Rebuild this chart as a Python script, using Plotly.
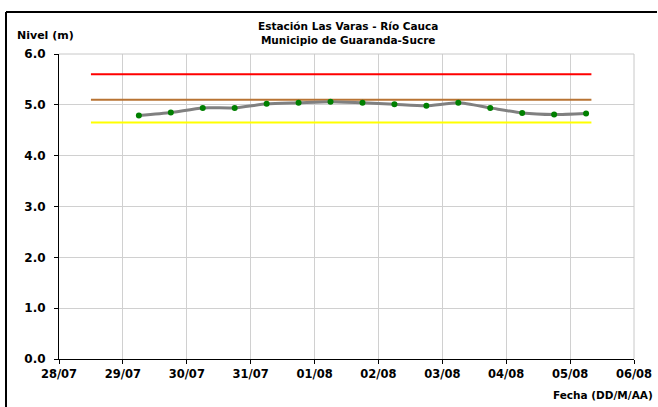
import plotly.graph_objects as go

# Data
fechas = ["2012-07-29 06:00", "2012-07-29 18:00", "2012-07-30 06:00", "2012-07-30 18:00",
          "2012-07-31 06:00", "2012-07-31 18:00", "2012-08-01 06:00", "2012-08-01 18:00",
          "2012-08-02 06:00", "2012-08-02 18:00", "2012-08-03 06:00", "2012-08-03 18:00",
          "2012-08-04 06:00", "2012-08-04 18:00", "2012-08-05 06:00"]
nivel = [4.79, 4.85, 4.94, 4.94, 5.02, 5.04, 5.06, 5.04, 5.01, 4.98, 5.04, 4.94, 4.84, 4.81, 4.83]

umbral_x = ["2012-07-28 12:00", "2012-08-05 08:00"]
umbral_rojo = 5.6
umbral_naranja = 5.1
umbral_amarillo = 4.65

titulo = "Estación Las Varas - Río Cauca<br>Municipio de Guaranda-Sucre"

fig = go.Figure()
for val, col in [(umbral_rojo, "#ff0000"), (umbral_naranja, "#b87333"), (umbral_amarillo, "#ffff00")]:
    fig.add_trace(go.Scatter(x=umbral_x, y=[val, val], mode="lines",
                             line=dict(color=col, width=2), showlegend=False, hoverinfo="skip"))

fig.add_trace(go.Scatter(x=fechas, y=nivel, mode="lines+markers",
                         line=dict(color="#808080", width=3, shape="spline", smoothing=0.6),
                         marker=dict(color="#008000", size=6),
                         showlegend=False))

font = "DejaVu Sans, sans-serif"
W, H = 658, 407
L, R, T, B = 59, 24, 54, 48
pw, ph = W - L - R, H - T - B


def px(x):
    return (x - L) / pw


def py(y):
    return (H - B - y) / ph


border = dict(color="black", width=2)
fig.update_layout(
    width=W, height=H,
    margin=dict(l=L, r=R, t=T, b=B, autoexpand=False),
    paper_bgcolor="white", plot_bgcolor="white",
    font=dict(family=font, color="black"),
    showlegend=False,
    xaxis=dict(
        type="date",
        range=["2012-07-28", "2012-08-06"],
        dtick=86400000, tick0="2012-07-28",
        tickformat="%d/%m",
        tickfont=dict(size=11.5, family=font, weight="bold"),
        showgrid=True, gridcolor="#d0d0d0", gridwidth=1,
        showline=True, linecolor="black", linewidth=1,
        ticks="outside", ticklen=4, tickcolor="black",
        mirror=False, zeroline=False, automargin=False,
    ),
    yaxis=dict(
        range=[0, 6], dtick=1, tickformat=".1f",
        tickfont=dict(size=12, family=font, weight="bold"),
        showgrid=True, gridcolor="#d0d0d0", gridwidth=1,
        showline=True, linecolor="black", linewidth=1,
        ticks="outside", ticklen=4, tickcolor="black",
        ticklabelstandoff=6,
        zeroline=False, automargin=False,
    ),
    annotations=[
        dict(text=titulo, x=px(348), xref="paper", y=py(33), yref="paper", xanchor="center", yanchor="middle",
             showarrow=False, font=dict(size=10.5, family=font, weight="bold")),
        dict(text="Nivel (m)", x=px(15), xref="paper", y=py(35), yref="paper", xanchor="left", yanchor="middle",
             showarrow=False, font=dict(size=11, family=font, weight="bold")),
        dict(text="Fecha (DD/M/AA)", x=px(655), xref="paper", y=py(395), yref="paper", xanchor="right", yanchor="middle",
             showarrow=False, font=dict(size=10.5, family=font, weight="bold")),
    ],
    shapes=[
        dict(type="line", xref="paper", yref="paper", x0=0, x1=1, y0=1, y1=1, line=dict(color="#c8c8c8", width=1)),
        dict(type="line", xref="paper", yref="paper", x0=1, x1=1, y0=0, y1=1, line=dict(color="#c8c8c8", width=1)),
        dict(type="line", xref="paper", yref="paper", x0=px(6), x1=px(657), y0=py(12), y1=py(12), line=border),
        dict(type="line", xref="paper", yref="paper", x0=px(6), x1=px(6), y0=py(12), y1=py(410), line=border),
    ],
)

fig.write_html("out.html", config={"displayModeBar": False},
               post_script="document.body.style.margin='0';document.body.style.padding='0';document.body.style.overflow='hidden';")
